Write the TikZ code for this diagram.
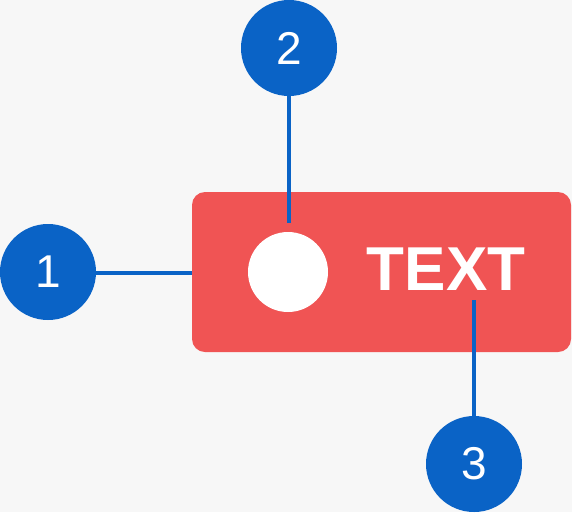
\documentclass[tikz,border=0pt]{standalone}
\usepackage{fontspec}
\setmainfont{Liberation Sans}
\usetikzlibrary{positioning}
\definecolor{bgGray}{HTML}{F7F7F7}
\definecolor{chipRed}{HTML}{F05454}
\definecolor{calloutBlue}{HTML}{0A63C6}

\begin{document}
\begin{tikzpicture}[x=1pt, y=-1pt,
    callout/.style={circle, fill=calloutBlue, minimum size=96pt, inner sep=0pt, text=white, font=\fontsize{46}{46}\selectfont},
    leader/.style={draw=calloutBlue, line width=4pt}
]
% Background
\fill[bgGray] (0,0) rectangle (572,512);
\useasboundingbox (0,0) rectangle (572,512);

% Chip
\fill[chipRed, rounded corners=13pt] (192,192) rectangle (571,352);
\node[circle, fill=white, minimum size=80pt, inner sep=0pt] (icon) at (288,272) {};
\node[text=white, inner sep=0pt, font=\fontsize{62}{62}\selectfont\bfseries] (label) at (446,269) {TEXT};
\coordinate (chipleft) at (192,273);

% Callouts
\node[callout] (c1) at (48,272) {1};
\node[callout] (c2) at (289,48) {2};
\node[callout] (c3) at (474,464) {3};

\coordinate (iconTop) at (289,223);
\coordinate (labelBottom) at (474,300);
\draw[leader] (c1.east |- chipleft) -- (chipleft);
\draw[leader] (c2.south) -- (iconTop);
\draw[leader] (c3.north) -- (labelBottom);
\end{tikzpicture}
\end{document}
